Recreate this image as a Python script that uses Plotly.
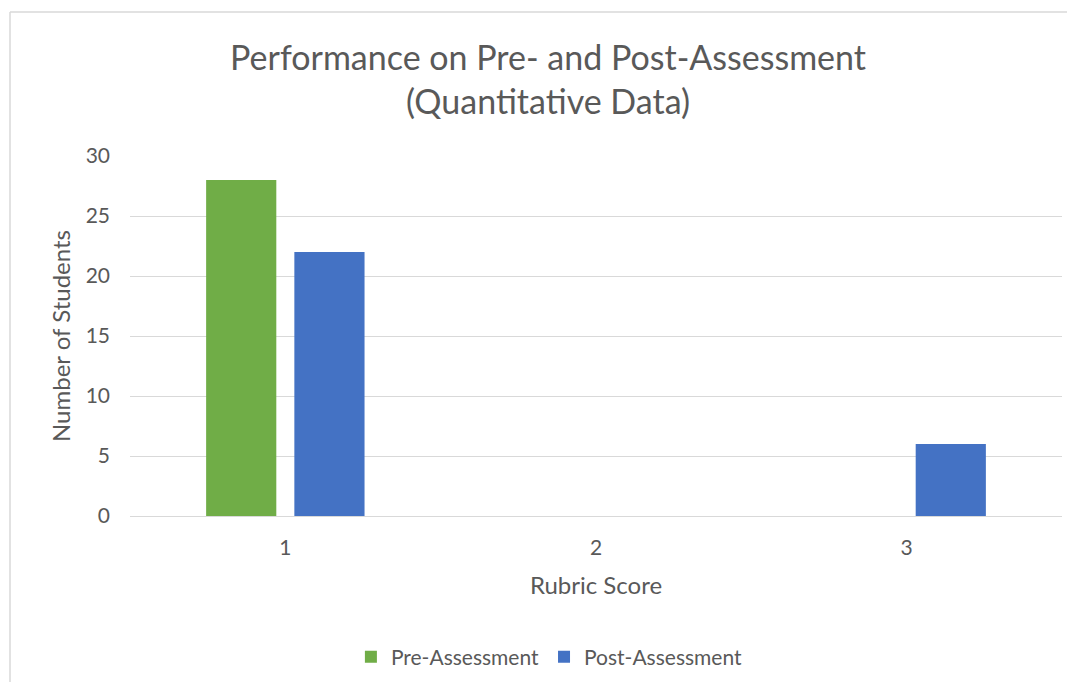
import plotly.graph_objects as go

categories = [1, 2, 3]
pre_values = [28, 0, 0]
post_values = [22, 0, 6]
y_ticks = [0, 5, 10, 15, 20, 25, 30]

FONT = "Lato"
TXT = "#595959"
GRID = "#d9d9d9"

fig = go.Figure()
fig.add_trace(go.Bar(x=categories, y=pre_values, name="Pre-Assessment",
                     marker=dict(color="#70ad47", line=dict(width=0))))
fig.add_trace(go.Bar(x=categories, y=post_values, name="Post-Assessment",
                     marker=dict(color="#4472c4", line=dict(width=0))))

bx0 = (2 - 122) / 932
by1 = (508 - 4) / 360

fig.update_layout(
    width=1059, height=674,
    margin=dict(l=122, r=5, t=148, b=166),
    paper_bgcolor="white", plot_bgcolor="white",
    barmode="group", bargap=0.432, bargroupgap=0.2045,
    title=dict(text="Performance on Pre- and Post-Assessment<br>(Quantitative Data)",
               x=(548 - 8) / 1059, xanchor="center", y=1 - 62 / 674, yanchor="top",
               font=dict(family=FONT, size=34, color=TXT)),
    font=dict(family=FONT, color=TXT),
    xaxis=dict(tickmode="array", tickvals=categories, ticktext=[str(c) for c in categories],
               range=[0.5, 3.5], showgrid=False, zeroline=False, showline=False,
               tickfont=dict(size=21, color=TXT), ticklabelstandoff=17,
               title=dict(text="Rubric Score", font=dict(size=24, color=TXT), standoff=19)),
    yaxis=dict(tickmode="array", tickvals=y_ticks, range=[0, 30],
               showgrid=True, gridcolor=GRID, gridwidth=1.3,
               zeroline=True, zerolinecolor=GRID, zerolinewidth=1.3, showline=False,
               tickfont=dict(size=21, color=TXT), ticklabelstandoff=19,
               title=dict(text="Number of Students", font=dict(size=24, color=TXT), standoff=8)),
    legend=dict(orientation="h", x=0.45, xanchor="center", y=-0.392, yanchor="middle",
                font=dict(size=21, color=TXT), itemwidth=30, traceorder="normal"),
    shapes=[
        dict(type="line", xref="paper", yref="paper", x0=bx0, x1=1.5, y0=by1, y1=by1,
             line=dict(color=GRID, width=1.5), layer="below"),
        dict(type="line", xref="paper", yref="paper", x0=bx0, x1=bx0, y0=-1.0, y1=by1,
             line=dict(color=GRID, width=1.5), layer="below"),
    ],
)

fig.write_html("out.html")
